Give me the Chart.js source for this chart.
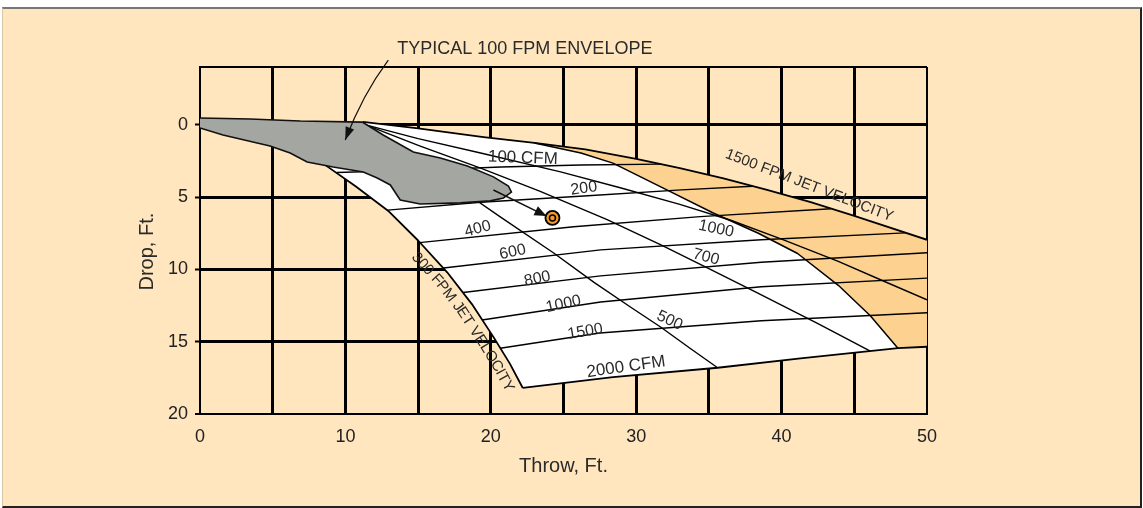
<!DOCTYPE html>
<html>
<head>
<meta charset="utf-8">
<script src="https://cdn.jsdelivr.net/npm/chart.js@4/dist/chart.umd.min.js"></script>
<style>
  html, body { margin:0; padding:0; background:#ffffff; width:1143px; height:508px; overflow:hidden; }
  #bg { position:absolute; left:2px; top:7px; width:1137px; height:497px; background:#FFE6BE;
        border-top:2px solid #777; border-right:2px solid #222; border-bottom:2px solid #222; border-left:1px solid #d8c6a4; }
  #c { position:absolute; left:0; top:0; }
</style>
</head>
<body>
<div id="bg"></div>
<canvas id="c" width="1143" height="508"></canvas>
<script>
// ---------------- data (Throw ft, Drop ft) ----------------
const throwTicks = [0, 10, 20, 30, 40, 50];
const dropTicks  = [0, 5, 10, 15, 20];

// jet velocity lines (FPM)
const fpm1500 = [[11.2,-0.2],[15,0.25],[19.5,0.85],[23,1.25],[26.5,1.7],[30,2.35],[33,3.0],[36,3.7],[39,4.5],[42,5.35],[45,6.3],[50,7.95]];
const fpm1000 = [[11.4,0],[15,0.95],[19.3,1.95],[24.8,3.25],[28.9,4.35],[33,5.5],[36.5,6.6],[40,7.9],[43.9,9.45],[47,10.8],[50,12.1]];
const fpm700  = [[11.4,0],[15.1,1.45],[19.3,3.0],[23.4,4.6],[28,6.55],[31.7,8.3],[35.1,10.0],[38.4,11.65],[42.5,13.75],[46.1,15.65]];
const fpm500  = [[11.4,0],[15.1,2.4],[18.4,4.8],[20.7,6.4],[24.3,8.85],[27.1,10.9],[29.6,12.6],[31.7,14.0],[33.7,15.45],[35.6,16.8]];
const fpm300  = [[6.9,1.75],[8.5,2.7],[10.7,4.25],[13,6.0],[15,8.0],[17,10.2],[18.7,12.4],[20.2,14.7],[21.3,16.5],[22.2,18.2]];

// air volume lines (CFM)
const cfm100  = [[9.4,3.3],[15.15,3.13],[20.7,2.92],[26.2,2.78],[31.7,2.72]];
const cfm200  = [[12.9,5.9],[19.3,5.35],[26.4,4.92],[33.1,4.5],[38,4.25]];
const cfm400  = [[15.1,8.15],[25.7,7.05],[34.4,6.35],[43.4,5.8]];
const cfm600  = [[16.75,9.9],[27.55,8.65],[38.6,7.95],[48.5,7.47]];
const cfm800  = [[18.1,11.6],[27.55,10.45],[38.6,9.5],[50,8.85]];
const cfm1000 = [[19.4,13.5],[27.55,12.25],[38.6,11.2],[50,10.6]];
const cfm1500 = [[20.65,15.45],[27.5,14.4],[38.6,13.55],[50,13.0]];
const cfm2000 = [[22.2,18.2],[28.4,17.45],[35.6,16.8],[41.3,16.15],[48,15.45],[50,15.35]];

// edge of the shaded (high-velocity) zone
const shadeEdge = [[23,1.25],[26.2,1.95],[28.4,2.65],[31.9,4.4],[35.3,6.1],[38.4,7.5],[41.1,8.9],[43.9,11.1],[46.1,13.2],[48,15.45]];

// typical 100 FPM envelope outline
const envelope100 = [[0,-0.47],[3.44,-0.4],[6.89,-0.26],[11.16,-0.19],[12.6,0.7],[14.67,1.88],[16.53,2.3],[18.39,2.85],[20.18,3.6],[21.21,4.23],[21.42,4.65],[20.87,5.06],[19.97,5.26],[17.91,5.4],[15.15,5.48],[13.77,5.2],[13.09,4.16],[12.19,3.68],[11.23,3.26],[9.16,2.92],[7.37,2.57],[6.2,1.95],[4.82,1.46],[3.93,1.25],[1.58,0.7],[0,0.22]];

// selected operating point
const selectedPoint = [24.24, 6.44];

// ---------------- annotation config ----------------
const FONT = "'Liberation Sans', Arial, Helvetica, sans-serif";
const annotations = [
  {text:'100 CFM', at:[22.2,2.3], rot:2, size:17},
  {text:'200', at:[26.4,4.4], rot:-8},
  {text:'400', at:[19.1,7.2], rot:-15},
  {text:'600', at:[21.5,8.8], rot:-12},
  {text:'800', at:[23.2,10.65], rot:-12},
  {text:'1000', at:[25.0,12.4], rot:-12},
  {text:'1500', at:[26.5,14.3], rot:-10},
  {text:'2000 CFM', at:[29.3,16.75], rot:-8, size:17},
  {text:'1000', at:[35.5,7.2], rot:12},
  {text:'700', at:[34.8,9.15], rot:15},
  {text:'500', at:[32.3,13.55], rot:25},
  {text:'1500 FPM JET VELOCITY', at:[41.9,4.2], rot:21, size:15}
];
const curveLabel = {text:'300 FPM JET VELOCITY', startDrop:8.4, size:15, gap:5};
const envelopeLabel = {text:'TYPICAL 100 FPM ENVELOPE', at:[13.57,-5.24], size:18};
const envelopeArrow = {from:[12.95,-4.48], ctrl:[11.16,-2.06], to:[9.99,1.05]};
const pointArrow = {from:[20.18,4.51], to:[23.83,6.31]};

// ---------------- build datasets ----------------
const toXY = a => a.map(p => ({x:p[0], y:p[1]}));
const whiteShape = [...fpm1500, ...cfm2000.slice().reverse(), ...fpm300.slice().reverse()];
const orangeShape = [shadeEdge[0], ...fpm1500.filter(p => p[0] > shadeEdge[0][0]), cfm2000[cfm2000.length-1], ...shadeEdge.slice().reverse()];

function lineDs(arr, w, order) {
  return {data:toXY(arr), showLine:true, borderColor:'#000', borderWidth:w, pointRadius:0, fill:false, order:order, borderJoinStyle:'round'};
}

const datasets = [
  {data:[{x:selectedPoint[0], y:selectedPoint[1]}], pointRadius:3, pointBorderWidth:1.5, pointBackgroundColor:'#F39A2B', pointBorderColor:'#000', order:0},
  {data:[{x:selectedPoint[0], y:selectedPoint[1]}], pointRadius:7, pointBorderWidth:1.8, pointBackgroundColor:'#F39A2B', pointBorderColor:'#000', order:1},
  {data:toXY(envelope100), showLine:true, fill:'shape', backgroundColor:'#A4A6A1', borderColor:'#111', borderWidth:1.6, pointRadius:0, order:2},
  lineDs(fpm1500, 1.8, 3), lineDs(fpm300, 1.8, 3), lineDs(cfm2000, 1.8, 3), lineDs(shadeEdge, 1.5, 3),
  lineDs(fpm1000, 1.4, 4), lineDs(fpm700, 1.4, 4), lineDs(fpm500, 1.4, 4),
  lineDs(cfm100, 1.4, 4), lineDs(cfm200, 1.4, 4), lineDs(cfm400, 1.4, 4), lineDs(cfm600, 1.4, 4),
  lineDs(cfm800, 1.4, 4), lineDs(cfm1000, 1.4, 4), lineDs(cfm1500, 1.4, 4),
  {data:toXY(orangeShape), showLine:true, fill:'shape', backgroundColor:'#FDD291', borderWidth:0, borderColor:'rgba(0,0,0,0)', pointRadius:0, order:5},
  {data:toXY(whiteShape), showLine:true, fill:'shape', backgroundColor:'#FFFFFF', borderWidth:0, borderColor:'rgba(0,0,0,0)', pointRadius:0, order:6}
];

// ---------------- annotation plugin ----------------
function arrowHead(ctx, x, y, ang, len, half) {
  ctx.beginPath();
  ctx.moveTo(x, y);
  ctx.lineTo(x - len*Math.cos(ang) + half*Math.sin(ang), y - len*Math.sin(ang) - half*Math.cos(ang));
  ctx.lineTo(x - len*Math.cos(ang) - half*Math.sin(ang), y - len*Math.sin(ang) + half*Math.cos(ang));
  ctx.closePath();
  ctx.fill();
}

const annotPlugin = {
  id: 'annot',
  afterDatasetsDraw(chart) {
    const {ctx, scales} = chart;
    const X = v => scales.x.getPixelForValue(v), Y = v => scales.y.getPixelForValue(v);
    ctx.save();
    ctx.fillStyle = '#2a2a2a';
    ctx.textAlign = 'center';
    ctx.textBaseline = 'middle';
    for (const a of annotations) {
      ctx.save();
      ctx.translate(X(a.at[0]), Y(a.at[1]));
      ctx.rotate(a.rot * Math.PI / 180);
      ctx.font = `${a.size || 16}px ${FONT}`;
      ctx.fillText(a.text, 0, 0);
      ctx.restore();
    }
    // text along the 300 FPM curve
    const pts = fpm300.map(p => [X(p[0]), Y(p[1])]);
    const cum = [0];
    for (let i = 1; i < pts.length; i++) cum.push(cum[i-1] + Math.hypot(pts[i][0]-pts[i-1][0], pts[i][1]-pts[i-1][1]));
    const at = s => {
      let i = 1;
      while (i < pts.length - 1 && cum[i] < s) i++;
      const t = (s - cum[i-1]) / (cum[i] - cum[i-1]);
      const dx = pts[i][0]-pts[i-1][0], dy = pts[i][1]-pts[i-1][1];
      return {x: pts[i-1][0] + dx*t, y: pts[i-1][1] + dy*t, a: Math.atan2(dy, dx)};
    };
    const yStart = Y(curveLabel.startDrop);
    let s = 0;
    for (let i = 1; i < pts.length; i++) {
      if (pts[i][1] >= yStart) { const t = (yStart - pts[i-1][1])/(pts[i][1]-pts[i-1][1]); s = cum[i-1] + t*(cum[i]-cum[i-1]); break; }
    }
    ctx.font = `${curveLabel.size}px ${FONT}`;
    ctx.textBaseline = 'top';
    ctx.textAlign = 'center';
    for (const ch of curveLabel.text) {
      const w = ctx.measureText(ch).width;
      const p = at(s + w/2);
      const ux = Math.sin(p.a), uy = -Math.cos(p.a);
      ctx.save();
      ctx.translate(p.x - ux*curveLabel.gap, p.y - uy*curveLabel.gap);
      ctx.rotate(p.a);
      ctx.fillText(ch, 0, 0);
      ctx.restore();
      s += w;
    }
    // envelope label + arrow
    ctx.font = `${envelopeLabel.size}px ${FONT}`;
    ctx.textAlign = 'left';
    ctx.textBaseline = 'middle';
    ctx.fillText(envelopeLabel.text, X(envelopeLabel.at[0]), Y(envelopeLabel.at[1]));
    ctx.strokeStyle = '#111';
    ctx.fillStyle = '#111';
    ctx.lineWidth = 1.2;
    const f = [X(envelopeArrow.from[0]), Y(envelopeArrow.from[1])];
    const c = [X(envelopeArrow.ctrl[0]), Y(envelopeArrow.ctrl[1])];
    const t = [X(envelopeArrow.to[0]), Y(envelopeArrow.to[1])];
    ctx.beginPath();
    ctx.moveTo(f[0], f[1]);
    ctx.quadraticCurveTo(c[0], c[1], t[0], t[1]);
    ctx.stroke();
    arrowHead(ctx, t[0], t[1], Math.atan2(t[1]-c[1], t[0]-c[0]), 13, 4.5);
    // arrow to the selected point
    const a0 = [X(pointArrow.from[0]), Y(pointArrow.from[1])];
    const a1 = [X(pointArrow.to[0]), Y(pointArrow.to[1])];
    ctx.lineWidth = 1.5;
    ctx.beginPath();
    ctx.moveTo(a0[0], a0[1]);
    ctx.lineTo(a1[0], a1[1]);
    ctx.stroke();
    arrowHead(ctx, a1[0], a1[1], Math.atan2(a1[1]-a0[1], a1[0]-a0[0]), 12, 5);
    ctx.restore();
  }
};

// ---------------- chart ----------------
Chart.defaults.font.family = FONT;
new Chart(document.getElementById('c'), {
  type: 'scatter',
  data: {datasets},
  options: {
    responsive: false,
    animation: false,
    events: [],
    layout: {padding: {left: 128, right: 216, top: 67, bottom: 24}},
    plugins: {legend: {display: false}, tooltip: {enabled: false}},
    elements: {line: {tension: 0}},
    scales: {
      x: {
        type: 'linear', min: 0, max: 50,
        ticks: {stepSize: 5, autoSkip: false, maxRotation: 0, padding: 12, color: '#222',
                font: {size: 18}, callback: v => throwTicks.includes(v) ? String(v) : ''},
        grid: {color: '#000', drawTicks: false,
               lineWidth: c => (c.tick && (c.tick.value === 0 || c.tick.value === 50)) ? 2 : 3},
        border: {display: true, color: '#000', width: 2},
        title: {display: true, text: 'Throw, Ft.', color: '#2a2a2a', font: {size: 20}, padding: {top: 0, bottom: 6}},
        afterFit: s => { s.height = 70; }
      },
      y: {
        type: 'linear', min: -4, max: 20, reverse: true,
        afterBuildTicks: s => { s.ticks = [-4, ...dropTicks].map(v => ({value: v})); },
        ticks: {padding: 7, color: '#222', font: {size: 18}, autoSkip: false,
                callback: v => dropTicks.includes(v) ? String(v) : ''},
        grid: {color: '#000', drawTicks: true, tickLength: 5, tickWidth: 2,
               tickColor: c => (c.tick && c.tick.value < 0) ? 'rgba(0,0,0,0)' : '#000',
               lineWidth: c => (c.tick && (c.tick.value < 0 || c.tick.value === 20)) ? 2 : 3},
        border: {display: true, color: '#000', width: 2},
        title: {display: true, text: 'Drop, Ft.    ', color: '#2a2a2a', font: {size: 20}, padding: {top: 7, bottom: 0}},
        afterFit: s => { s.width = 72; }
      }
    }
  },
  plugins: [annotPlugin]
});
</script>
</body>
</html>
